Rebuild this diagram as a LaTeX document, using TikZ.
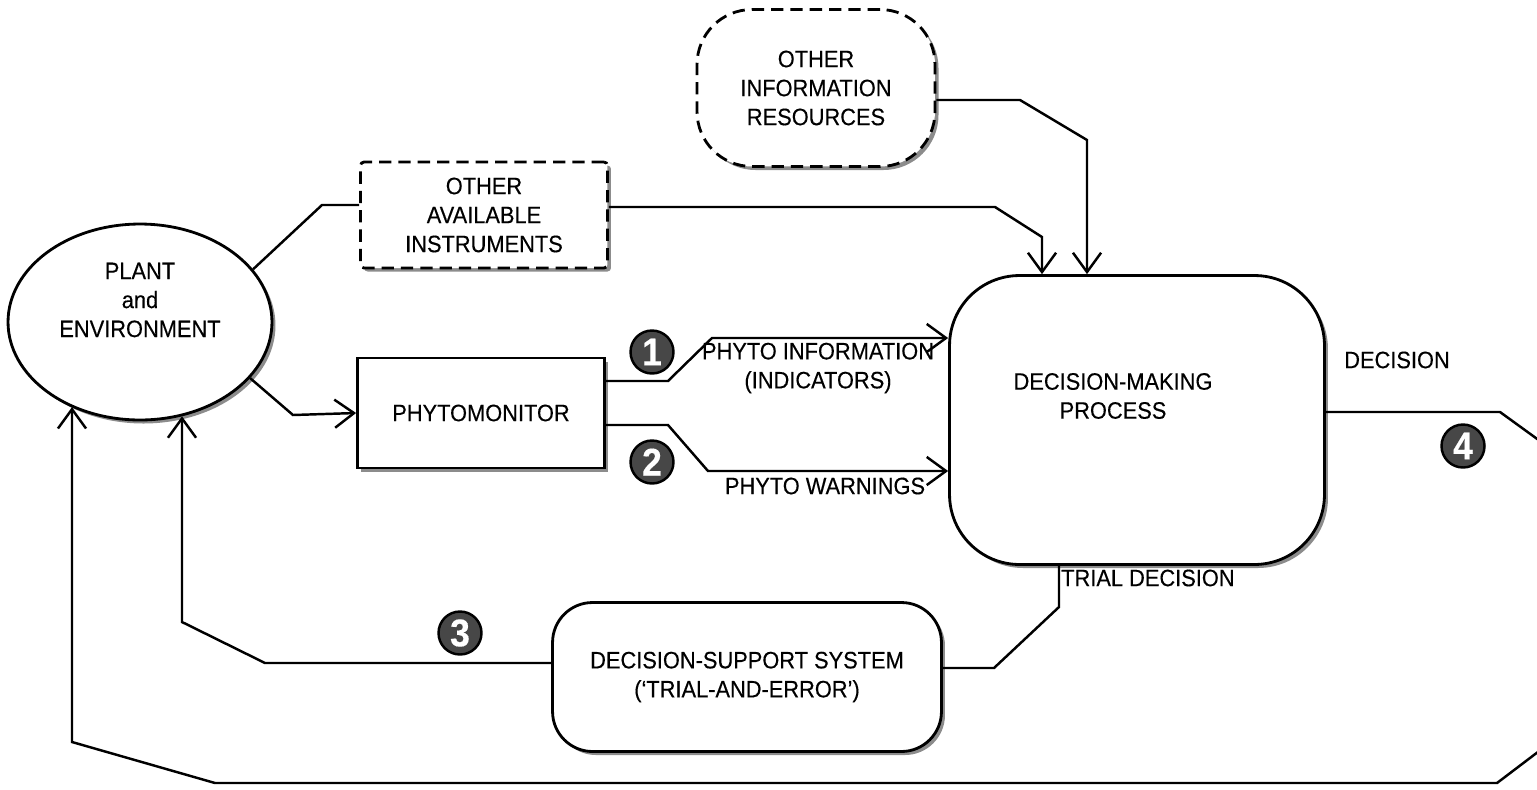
\documentclass[tikz,border=0pt]{standalone}
\usepackage{fontspec}
\setmainfont{Liberation Sans}[FakeStretch=0.92, FakeBold=0.3]
\usetikzlibrary{shapes.geometric, shadows, arrows.meta}
\newcommand{\lbl}{\fontsize{13.5}{16.5}\selectfont}

\begin{document}
\begin{tikzpicture}[x=0.02cm, y=-0.02cm, line width=1.4pt,
  box/.style={draw, line width=1.6pt, fill=white, align=center, font=\lbl, inner sep=0pt,
    drop shadow={shadow xshift=2pt, shadow yshift=-2pt, fill=black!45, opacity=1}},
  dashbox/.style={box, dash pattern=on 7pt off 4pt},
  txt/.style={align=center, font=\lbl},
  num/.style={circle, draw=black, fill=black!72, text=white, inner sep=0pt,
    minimum size=0.86cm, font=\bfseries\fontsize{22}{22}\selectfont},
  arr/.style={-{Straight Barb[length=11pt, width=16pt]}}]

  \useasboundingbox (0,0) rectangle (1537,789);
  \clip (0,0) rectangle (1537,789);

  \node[box, ellipse, minimum width=5.28cm, minimum height=3.92cm,
    label={[txt, yshift=0.44cm]center:PLANT\\and\\ENVIRONMENT}] (pe) at (140,322) {};
  \node[dashbox, minimum width=4.94cm, minimum height=2.12cm, rounded corners=2pt]
    (oai) at (484,215) {OTHER\\AVAILABLE\\INSTRUMENTS};
  \node[dashbox, minimum width=4.76cm, minimum height=3.14cm, rounded corners=1.1cm]
    (oir) at (816,88) {OTHER\\INFORMATION\\RESOURCES};
  \node[box, minimum width=4.94cm, minimum height=2.2cm] (pm) at (481,413) {PHYTOMONITOR};
  \node[box, minimum width=7.5cm, minimum height=5.78cm, rounded corners=1.4cm,
    label={[txt, xshift=-0.48cm, yshift=0.48cm]center:DECISION-MAKING\\PROCESS}] (dmp) at (1137,420) {};
  \node[box, minimum width=7.78cm, minimum height=2.98cm, rounded corners=0.8cm]
    (dss) at (747,677) {DECISION-SUPPORT SYSTEM\\(`TRIAL-AND-ERROR')};

  \draw (pe.25) -- (322,205) -- (322,205 -| oai.west);
  \draw[arr] (oai.east |- 0,207) -- (995,207) -- (1042,237) -- (dmp.north -| 1042,0);
  \draw[arr] (oir.east |- 0,100) -- (1020,100) -- (1087,140) -- (dmp.north -| 1087,0);
  \draw[arr] (pe.-27) -- (293,415) -- (pm.west);
  \draw[arr] (pm.east |- 0,381) -- (668,381) -- (712,338) -- (dmp.west |- 0,338);
  \draw[arr] (pm.east |- 0,425) -- (668,425) -- (708,471) -- (dmp.west |- 0,471);
  \draw[arr] (dmp.east |- 0,412) -- (1500,412) -- (1580,470) -- (1580,720) -- (1497,783)
    -- (215,783) -- (72,742) -- (72,742 |- pe.-129);
  \draw[arr] (dss.west |- 0,663) -- (265,663) -- (182,622) -- (182,622 |- pe.-66);
  \draw (dmp.south -| 1059,0) -- (1059,607) -- (994,668) -- (dss.east |- 0,668);

  \node[txt] (info) at (818,368) {PHYTO INFORMATION\\(INDICATORS)};
  \node[txt] (warn) at (825,486) {PHYTO WARNINGS};
  \node[txt] (dec) at (1397,360) {DECISION};
  \node[txt, anchor=west, inner sep=0pt] (trial) at (1060,578) {TRIAL DECISION};

  \foreach \n/\pos in {1/{652,352}, 2/{652,462}, 3/{460,633}, 4/{1463,446}}
    \node[num] (n\n) at (\pos) {\n};
\end{tikzpicture}
\end{document}
